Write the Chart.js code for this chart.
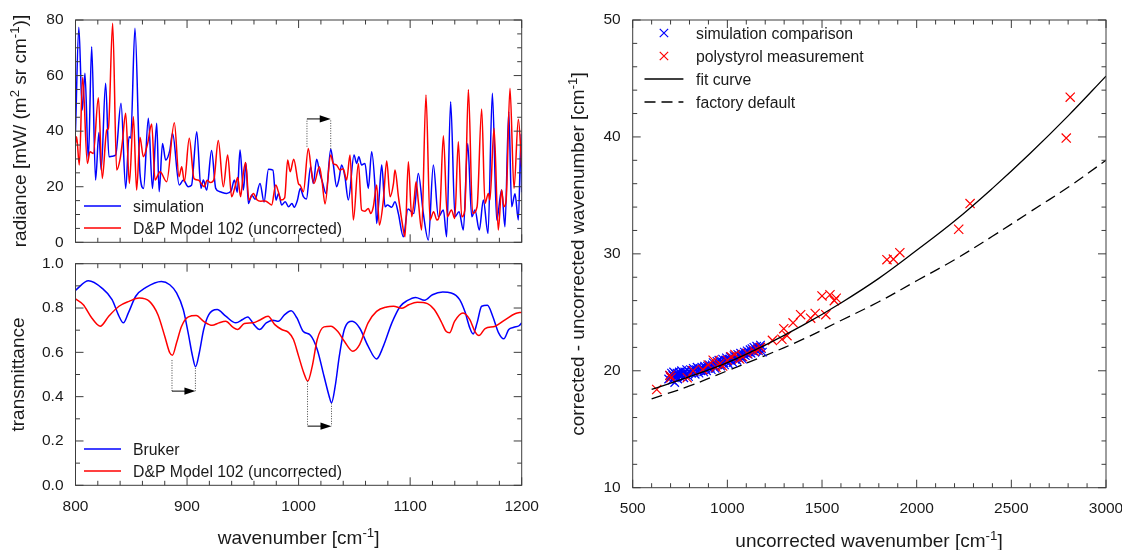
<!DOCTYPE html>
<html>
<head>
<meta charset="utf-8">
<script src="https://cdn.jsdelivr.net/npm/chart.js@4.4.0/dist/chart.umd.min.js"></script>
<style>
html, body { margin: 0; padding: 0; background: #fff; }
#wrap { position: relative; width: 1122px; height: 550px; overflow: hidden; }
canvas { position: absolute; }
</style>
</head>
<body>
<div id="wrap">
  <canvas id="radChart" width="540" height="250" style="left:0;top:0"></canvas>
  <canvas id="transChart" width="540" height="300" style="left:0;top:250px"></canvas>
  <canvas id="corrChart" width="567" height="550" style="left:555px;top:0"></canvas>
</div>
<script>
// ---------- radiance spectra (upper left) ----------
const simWn = [800, 803, 806, 808.5, 811.5, 814.5, 818, 821, 823, 827,
  830, 833, 836, 840.8, 845, 848, 849.5, 853.3, 857.8, 861,
  865.3, 869, 872.8, 875, 878, 880.8, 884.5, 887, 893, 896.7,
  901, 904, 908.7, 912.5, 914.6, 917.6, 922, 925.7, 929.5, 935.5,
  939.5, 942.4, 945, 947.5, 950.5, 952.8, 955, 958, 961, 965.4,
  969, 973, 977, 979.7, 982, 984.8, 988, 991, 994, 996,
  999, 1001.5, 1004.3, 1007, 1010.8, 1013.2, 1016.2, 1019, 1021, 1024.6,
  1028.8, 1031, 1034.1, 1036, 1038.6, 1041.5, 1044.6, 1049.7, 1052, 1054,
  1056.5, 1059.5, 1062.5, 1065.5, 1068.5, 1070, 1072, 1074.5, 1077.5, 1079.6,
  1083.5, 1086.4, 1089.4, 1093.9, 1098, 1103.3, 1107.3, 1111.8, 1116.3, 1120.8,
  1125.3, 1129.8, 1132.7, 1136.3, 1140.2, 1143.8, 1147.7, 1151.6, 1155.2, 1158.1,
  1162, 1165.6, 1169.8, 1173.7, 1177.6, 1182, 1185, 1188.4, 1191, 1194,
  1197, 1199.5, 1200];
const simRad = [40, 77.4, 47.6, 60.8, 29.6, 70.4, 22.4, 39.5, 26, 57.2,
  30.8, 31, 31.4, 50, 19.4, 38, 37.5, 77, 24.8, 19.4,
  44.6, 19.4, 42.8, 18.2, 35.6, 29.6, 33, 39.2, 20.6, 22.4,
  20, 20.5, 39.8, 19.4, 22.4, 18.8, 33, 19.4, 18.2, 17.6,
  18.5, 22.4, 18, 33.2, 18.8, 28.4, 14, 17, 15.5, 21.2,
  14.5, 26.3, 26, 15.2, 17.6, 13.4, 14.6, 12.8, 14, 12.6,
  15.2, 19.4, 16.4, 15.6, 27.2, 21.2, 29.9, 24.8, 22.2, 17.6,
  33.5, 28.4, 20, 22.4, 27.8, 23.6, 15.2, 31.4, 28.4, 30.8,
  27.8, 28.4, 19.4, 32.6, 20, 6.8, 15.2, 27.8, 12.8, 13.4,
  12.6, 14.6, 10.4, 2, 12, 10.4, 24.8, 10.4, 0.8, 27.8,
  9.2, 11.6, 2, 50.6, 9.2, 11, 4.4, 35.6, 9.2, 11.6,
  4.4, 15.2, 3.2, 53.6, 8, 18.8, 5.6, 47, 12.8, 17.5,
  8, 39, 18];
const dpWn = [800, 801, 803.4, 806.4, 810.6, 813, 816, 820.5, 824, 828,
  829.5, 833.3, 836.9, 840, 842, 845, 848.3, 851.9, 854.8, 857.8,
  860.8, 864.7, 868.3, 871.3, 875.8, 881.7, 888.6, 892.8, 895.2, 897.6,
  902, 906.2, 910, 915.5, 918, 921, 924, 928, 932.5, 936.4,
  940, 943, 945.4, 948, 950.5, 952.5, 955.5, 959.5, 962.9, 966,
  969.9, 973, 975.8, 979.5, 982, 984.2, 987.5, 990.2, 992.5, 995.6,
  999.8, 1001.5, 1004.3, 1008.7, 1011.7, 1013.8, 1018.6, 1021, 1023.7, 1028.8,
  1031, 1034.1, 1037.1, 1040, 1043.1, 1046.1, 1049.1, 1053.6, 1056.5, 1059.5,
  1062.5, 1064.7, 1067, 1070, 1072.4, 1076, 1079, 1082, 1085, 1086.4,
  1089.5, 1092.5, 1095.4, 1098.4, 1101.4, 1103.5, 1105.3, 1107.5, 1110.3, 1114.2,
  1117.8, 1121, 1124, 1126.5, 1129.8, 1133.3, 1137, 1140, 1143.2, 1146.2,
  1149, 1152.2, 1156, 1160, 1164.1, 1167.1, 1170.1, 1171.5, 1175.2, 1179,
  1182, 1184, 1186, 1189.5, 1193.1, 1197, 1200];
const dpRad = [35.6, 38, 27.8, 59.4, 28.4, 32.6, 32, 52, 23, 40.4,
  41, 78.8, 26, 30, 36, 46.4, 21.2, 45.2, 18.8, 37.8,
  30.8, 35.6, 42.6, 22.4, 25.4, 21.8, 43, 23.6, 27.2, 21.8,
  37.4, 23, 22.4, 20, 22.3, 21.5, 22.5, 36.6, 20, 31.4,
  16.4, 20, 23.3, 16.4, 25, 28.7, 15.2, 17.6, 15.2, 14.8,
  14.9, 14.2, 13.4, 20.6, 18, 15.2, 16, 29.6, 25.4, 29.9,
  21.2, 20.5, 18.2, 33.8, 24.8, 21.2, 27.2, 22, 13.8, 31.4,
  28.4, 27.8, 26, 26.5, 22.4, 31.4, 8, 28.4, 11.6, 11.2,
  12.2, 10.4, 12.8, 20.6, 6.2, 15.2, 29.3, 16.4, 21, 26,
  16.4, 8, 2, 29, 9.2, 15, 21.8, 14, 4.4, 53,
  8, 11, 8, 10.6, 38.3, 9.2, 11.6, 8.6, 36.2, 9.2,
  11.6, 55, 10.4, 12.8, 48, 14, 17.6, 15.2, 41, 4.4,
  18.8, 12.8, 15, 55.4, 19.4, 44.3, 27.2];

// ---------- transmittance (lower left) ----------
const brukerWn = [800, 811.6, 823.7, 832.8, 839, 842.9, 847.4, 854, 863.2, 877,
  884.5, 890.6, 896.6, 901, 904.9, 907.6, 911, 914.9, 919.5, 927,
  934.7, 943.8, 949.8, 954.4, 960, 965, 971, 977, 981.8, 987.5,
  993.3, 998.5, 1004, 1010.6, 1016.7, 1022.8, 1027.4, 1029.5, 1032.8, 1036.5,
  1041, 1048, 1054.7, 1062.3, 1069.9, 1076, 1083.6, 1091.2, 1097.3, 1104.9,
  1113, 1120, 1129.2, 1136.8, 1144.4, 1149, 1153.5, 1156.5, 1160, 1164.1,
  1169.3, 1174, 1179.3, 1183.9, 1188.4, 1193, 1197.6, 1200];
const brukerT = [0.88, 0.923, 0.89, 0.838, 0.763, 0.733, 0.778, 0.853, 0.893, 0.92,
  0.905, 0.868, 0.793, 0.688, 0.583, 0.535, 0.598, 0.703, 0.77, 0.793,
  0.763, 0.733, 0.748, 0.76, 0.725, 0.703, 0.733, 0.745, 0.74, 0.77,
  0.788, 0.755, 0.695, 0.677, 0.613, 0.492, 0.402, 0.372, 0.447, 0.583,
  0.703, 0.74, 0.71, 0.628, 0.57, 0.628, 0.733, 0.808, 0.833, 0.848,
  0.835, 0.86, 0.872, 0.868, 0.838, 0.785, 0.71, 0.683, 0.733, 0.808,
  0.812, 0.763, 0.688, 0.661, 0.703, 0.713, 0.72, 0.733];
const dpTWn = [800, 807, 814.6, 822.2, 829.8, 839, 848, 857.1, 866.3, 873.9,
  880, 884.5, 886.9, 890.6, 895.1, 901.2, 908.2, 914.9, 922.5, 928.5,
  934.7, 940.7, 945.3, 951.4, 959, 965, 972.6, 978.7, 984.8, 990.9,
  995.4, 1000, 1004.6, 1008.2, 1012.2, 1016.7, 1022.8, 1028.9, 1035, 1041,
  1048.6, 1054.7, 1062.3, 1069.9, 1079, 1085.1, 1092.7, 1098.8, 1106.4, 1115.5,
  1121.6, 1127.7, 1132.2, 1135.3, 1139.8, 1147.4, 1153.5, 1158, 1161.7, 1167.2,
  1176.3, 1185.4, 1194.5, 1200];
const dpT = [0.841, 0.815, 0.755, 0.718, 0.763, 0.808, 0.83, 0.845, 0.83, 0.77,
  0.673, 0.598, 0.587, 0.643, 0.718, 0.76, 0.766, 0.74, 0.722, 0.733,
  0.74, 0.715, 0.703, 0.73, 0.733, 0.745, 0.763, 0.725, 0.703, 0.69,
  0.658, 0.583, 0.508, 0.47, 0.537, 0.658, 0.715, 0.718, 0.695, 0.65,
  0.605, 0.635, 0.733, 0.785, 0.805, 0.808, 0.799, 0.815, 0.826, 0.82,
  0.793, 0.74, 0.695, 0.688, 0.74, 0.778, 0.748, 0.695, 0.676, 0.707,
  0.718, 0.748, 0.775, 0.781];

// peak shift markers: from / to wavenumber, arrow level, top ends of the dotted drops
const radShifts = [{ from: 1007.5, to: 1028.8, level: 44.4, fromTop: 34.4, toTop: 33.6 }];
const transShifts = [
  { from: 886.5, to: 907.5, level: 0.425, fromTop: 0.565, toTop: 0.53 },
  { from: 1008, to: 1029.5, level: 0.267, fromTop: 0.47, toTop: 0.37 }
];

// ---------- wavenumber correction (right) ----------
const simCmpX = [690, 695, 700, 705, 708, 712, 716, 720, 722, 726,
  730, 734, 738, 742, 746, 750, 754, 758, 762, 766,
  770, 775, 780, 785, 790, 795, 800, 805, 810, 815,
  820, 825, 830, 835, 840, 845, 850, 855, 860, 865,
  870, 875, 880, 885, 890, 895, 900, 905, 910, 915,
  920, 925, 930, 935, 940, 945, 950, 955, 960, 965,
  970, 975, 980, 985, 990, 995, 1000, 1005, 1010, 1015,
  1020, 1025, 1030, 1035, 1040, 1045, 1050, 1055, 1060, 1065,
  1070, 1075, 1080, 1085, 1090, 1095, 1100, 1105, 1110, 1115,
  1120, 1125, 1130, 1135, 1140, 1145, 1150, 1155, 1160, 1165,
  1170, 1175, 1180, 1185];
const simCmpY = [19.3, 19.6, 19.5, 19.8, 19.2, 19.6, 19.9, 19.4, 19.0, 19.7,
  19.5, 19.8, 19.3, 19.6, 19.9, 19.5, 19.7, 20.0, 19.6, 19.8,
  19.4, 19.9, 19.7, 20.1, 19.8, 19.5, 19.9, 20.1, 19.8, 20.0,
  20.2, 19.9, 19.7, 20.1, 20.3, 20.0, 19.8, 20.2, 20.0, 20.3,
  20.1, 19.9, 20.4, 20.2, 20.0, 20.4, 20.2, 20.5, 20.3, 20.1,
  20.5, 20.7, 20.4, 20.2, 20.6, 20.8, 20.5, 20.9, 20.6, 20.4,
  20.8, 21.0, 20.7, 20.5, 20.9, 21.1, 20.8, 20.6, 21.0, 21.2,
  20.9, 21.1, 20.7, 21.3, 21.0, 21.2, 20.9, 21.4, 21.1, 21.3,
  21.5, 21.2, 21.0, 21.4, 21.6, 21.3, 21.5, 21.7, 21.4, 21.6,
  21.8, 21.5, 21.9, 21.7, 22.0, 21.6, 21.8, 22.1, 21.9, 21.7,
  22.0, 22.2, 21.9, 21.6];
const polyX = [627, 697, 702, 788, 819, 899, 940, 960, 1000, 1040,
  1081, 1141, 1161, 1238, 1288, 1298, 1315, 1347, 1387, 1440,
  1464, 1500, 1520, 1542, 1565, 1575, 1843, 1877, 1911, 2222,
  2282, 2790, 2811, 870, 925, 975, 1020, 1065, 1105, 1175];
const polyY = [18.4, 19.6, 19.4, 19.4, 20.0, 20.5, 20.3, 20.6, 20.9, 21.4,
  21.2, 21.7, 21.8, 22.6, 22.7, 23.6, 23.0, 24.1, 24.8, 24.5,
  24.9, 26.4, 24.8, 26.5, 26.0, 26.2, 29.5, 29.55, 30.1, 32.1,
  34.3, 39.9, 43.4, 20.1, 20.9, 20.4, 21.2, 21.0, 21.5, 22.0];
const curveX = [600, 800, 1000, 1200, 1400, 1600, 1800, 2000, 2200, 2400, 2600, 2800, 3000];
const fitY = [18.4, 19.5, 20.7, 22.2, 23.9, 25.8, 27.9, 30.3, 32.8, 35.6, 38.6, 41.8, 45.2];
const factoryY = [17.6, 18.7, 20.0, 21.3, 22.7, 24.3, 25.9, 27.7, 29.5, 31.5, 33.6, 35.7, 38.0];

// ---------- helpers ----------
const FONT = '"Liberation Sans", Arial, sans-serif';
const INK = '#1a1a1a';
const FRAME = '#3c3c3c';
const BLUE = '#0000ff';
const RED = '#ff0000';

const pts = (xs, ys) => xs.map((x, i) => ({ x: x, y: ys[i] }));

function richParts(str) {
    const parts = [];
    const re = /\^\{([^}]*)\}/g;
    let last = 0, m;
    while ((m = re.exec(str))) {
        if (m.index > last) parts.push({ t: str.slice(last, m.index) });
        parts.push({ t: m[1], sup: true });
        last = re.lastIndex;
    }
    if (last < str.length) parts.push({ t: str.slice(last) });
    return parts;
}

// text with ^{..} superscripts, centred (or left aligned) on x,y
function drawRich(ctx, str, x, y, size, rot, align) {
    const parts = richParts(str);
    let w = 0;
    parts.forEach(p => {
        ctx.font = (p.sup ? size * 0.7 : size) + 'px ' + FONT;
        p.w = ctx.measureText(p.t).width;
        w += p.w;
    });
    ctx.save();
    ctx.translate(x, y);
    if (rot) ctx.rotate(rot);
    ctx.fillStyle = INK;
    ctx.textAlign = 'left';
    ctx.textBaseline = 'alphabetic';
    let cx = align === 'left' ? 0 : -w / 2;
    parts.forEach(p => {
        ctx.font = (p.sup ? size * 0.7 : size) + 'px ' + FONT;
        ctx.fillText(p.t, cx, p.sup ? -size * 0.02 : size * 0.36);
        cx += p.w;
    });
    ctx.restore();
}

function marks(ctx, scale, minor, major, seg) {
    const n = Math.round((scale.max - scale.min) / minor);
    ctx.beginPath();
    for (let i = 0; i <= n; i++) {
        const v = scale.min + i * minor;
        const isMajor = Math.abs(v / major - Math.round(v / major)) < 1e-6;
        seg(scale.getPixelForValue(v), isMajor ? 8 : 4.5);
    }
    ctx.stroke();
}

function drawCross(ctx, x, y, h) {
    ctx.beginPath();
    ctx.moveTo(x - h, y - h); ctx.lineTo(x + h, y + h);
    ctx.moveTo(x - h, y + h); ctx.lineTo(x + h, y - h);
    ctx.stroke();
}

// gnuplot-like frame: mirrored inward ticks, legend, shift arrows, axis titles
const gnuFrame = {
    id: 'gnuFrame',
    afterDatasetsDraw(chart, args, o) {
        const ctx = chart.ctx, a = chart.chartArea;
        const xs = chart.scales.x, ys = chart.scales.y;
        ctx.save();
        ctx.strokeStyle = FRAME;
        ctx.lineWidth = 1;
        marks(ctx, xs, o.xMinor, o.xMajor, (p, len) => {
            ctx.moveTo(p, a.bottom); ctx.lineTo(p, a.bottom - len);
            ctx.moveTo(p, a.top); ctx.lineTo(p, a.top + len);
        });
        marks(ctx, ys, o.yMinor, o.yMajor, (p, len) => {
            ctx.moveTo(a.left, p); ctx.lineTo(a.left + len, p);
            ctx.moveTo(a.right, p); ctx.lineTo(a.right - len, p);
        });
        ctx.strokeRect(a.left, a.top, a.right - a.left, a.bottom - a.top);

        (o.shifts || []).forEach(s => {
            const x0 = xs.getPixelForValue(s.from), x1 = xs.getPixelForValue(s.to);
            const yl = ys.getPixelForValue(s.level);
            ctx.strokeStyle = '#444';
            ctx.setLineDash([1, 1.5]);
            ctx.beginPath();
            ctx.moveTo(x0, ys.getPixelForValue(s.fromTop)); ctx.lineTo(x0, yl);
            ctx.moveTo(x1, ys.getPixelForValue(s.toTop)); ctx.lineTo(x1, yl);
            ctx.stroke();
            ctx.setLineDash([]);
            ctx.strokeStyle = '#000';
            ctx.beginPath();
            ctx.moveTo(x0, yl); ctx.lineTo(x1 - 9, yl);
            ctx.stroke();
            ctx.fillStyle = '#000';
            ctx.beginPath();
            ctx.moveTo(x1, yl); ctx.lineTo(x1 - 11, yl - 3.6); ctx.lineTo(x1 - 11, yl + 3.6);
            ctx.closePath();
            ctx.fill();
        });

        const lg = o.legend;
        chart.data.datasets.forEach((ds, i) => {
            const y = lg.y + i * lg.dy;
            ctx.strokeStyle = ds.borderColor;
            ctx.lineWidth = ds.borderWidth;
            if (ds.showLine === false) {
                drawCross(ctx, (lg.x0 + lg.x1) / 2, y, 4.2);
            } else {
                ctx.setLineDash(ds.borderDash || []);
                ctx.beginPath();
                ctx.moveTo(lg.x0, y); ctx.lineTo(lg.x1, y);
                ctx.stroke();
                ctx.setLineDash([]);
            }
            drawRich(ctx, ds.label, lg.textX, y, 15.8, 0, 'left');
        });

        (o.titles || []).forEach(t => drawRich(ctx, t.text, t.x, t.y, 19, t.rot, 'center'));
        ctx.restore();
    }
};

const tickFont = { family: FONT, size: 15.5 };
// fixed axis box sizes so the plot areas sit where the reference puts them
function fixBox(w, h) {
    return s => {
        if (w !== null) s.width = w;
        if (h !== null) s.height = h;
        s.paddingLeft = 0; s.paddingRight = 0; s.paddingTop = 0; s.paddingBottom = 0;
    };
}
function axis(min, max, step, opts, fmt) {
    return Object.assign({
        type: 'linear', min: min, max: max,
        grid: { display: false, drawTicks: false },
        border: { display: false },
        ticks: { stepSize: step, font: tickFont, color: INK, padding: 12,
                 callback: fmt || (v => String(v)) }
    }, opts);
}
const base = { responsive: false, animation: false, events: [] };

// ---------- upper left: radiance ----------
new Chart(document.getElementById('radChart'), {
    type: 'line',
    data: {
        datasets: [
            { label: 'simulation', data: pts(simWn, simRad), borderColor: BLUE, borderWidth: 1.5,
              pointRadius: 0, cubicInterpolationMode: 'monotone', order: 2 },
            { label: 'D&P Model 102 (uncorrected)', data: pts(dpWn, dpRad), borderColor: RED, borderWidth: 1.5,
              pointRadius: 0, cubicInterpolationMode: 'monotone', order: 1 }
        ]
    },
    options: Object.assign({}, base, {
        layout: { padding: { top: 20, right: 18.3, left: 0, bottom: 0 } },
        scales: {
            x: axis(800, 1200, 100, { ticks: { display: false }, afterFit: fixBox(null, 7.7) }),
            y: axis(0, 80, 20, { afterFit: fixBox(75.5, null) })
        },
        plugins: {
            legend: { display: false }, tooltip: { enabled: false },
            gnuFrame: {
                xMinor: 20, xMajor: 100, yMinor: 5, yMajor: 20,
                shifts: radShifts,
                legend: { x0: 84, x1: 121, textX: 133, y: 206, dy: 22 },
                titles: [{ text: 'radiance [mW/ (m^{2} sr cm^{-1})]', x: 19, y: 131, rot: -Math.PI / 2 }]
            }
        }
    }),
    plugins: [gnuFrame]
});

// ---------- lower left: transmittance ----------
new Chart(document.getElementById('transChart'), {
    type: 'line',
    data: {
        datasets: [
            { label: 'Bruker', data: pts(brukerWn, brukerT), borderColor: BLUE, borderWidth: 1.5,
              pointRadius: 0, cubicInterpolationMode: 'monotone', order: 2 },
            { label: 'D&P Model 102 (uncorrected)', data: pts(dpTWn, dpT), borderColor: RED, borderWidth: 1.5,
              pointRadius: 0, cubicInterpolationMode: 'monotone', order: 1 }
        ]
    },
    options: Object.assign({}, base, {
        layout: { padding: { top: 13.7, right: 18.3, left: 0, bottom: 0 } },
        scales: {
            x: axis(800, 1200, 100, { afterFit: fixBox(null, 64.7) }),
            y: axis(0, 1, 0.2, { afterFit: fixBox(75.5, null) }, v => v.toFixed(1))
        },
        plugins: {
            legend: { display: false }, tooltip: { enabled: false },
            gnuFrame: {
                xMinor: 20, xMajor: 100, yMinor: 0.1, yMajor: 0.2,
                shifts: transShifts,
                legend: { x0: 84, x1: 121, textX: 133, y: 199, dy: 22 },
                titles: [
                    { text: 'transmittance', x: 17, y: 124.5, rot: -Math.PI / 2 },
                    { text: 'wavenumber [cm^{-1}]', x: 298.6, y: 287, rot: 0 }
                ]
            }
        }
    }),
    plugins: [gnuFrame]
});

// ---------- right: wavenumber correction ----------
new Chart(document.getElementById('corrChart'), {
    type: 'scatter',
    data: {
        datasets: [
            { label: 'simulation comparison', data: pts(simCmpX, simCmpY), borderColor: BLUE, borderWidth: 1.2,
              pointStyle: 'crossRot', pointRadius: 6, showLine: false, order: 3 },
            { label: 'polystyrol measurement', data: pts(polyX, polyY), borderColor: RED, borderWidth: 1.2,
              pointStyle: 'crossRot', pointRadius: 6.5, showLine: false, order: 1 },
            { label: 'fit curve', data: pts(curveX, fitY), borderColor: '#000', borderWidth: 1.3,
              pointRadius: 0, showLine: true, tension: 0.4, order: 0 },
            { label: 'factory default', data: pts(curveX, factoryY), borderColor: '#000', borderWidth: 1.3,
              borderDash: [11, 6], pointRadius: 0, showLine: true, tension: 0.4, order: 4 }
        ]
    },
    options: Object.assign({}, base, {
        layout: { padding: { top: 20, right: 16, left: 0, bottom: 0 } },
        scales: {
            x: axis(500, 3000, 500, { afterFit: fixBox(null, 62.3) }),
            y: axis(10, 50, 10, { afterFit: fixBox(77.7, null) })
        },
        plugins: {
            legend: { display: false }, tooltip: { enabled: false },
            gnuFrame: {
                xMinor: 100, xMajor: 500, yMinor: 2, yMajor: 10,
                legend: { x0: 89.5, x1: 128.4, textX: 141, y: 33, dy: 23 },
                titles: [
                    { text: 'corrected - uncorrected wavenumber [cm^{-1}]', x: 22, y: 254, rot: -Math.PI / 2 },
                    { text: 'uncorrected wavenumber [cm^{-1}]', x: 314, y: 540, rot: 0 }
                ]
            }
        }
    }),
    plugins: [gnuFrame]
});
</script>
</body>
</html>
